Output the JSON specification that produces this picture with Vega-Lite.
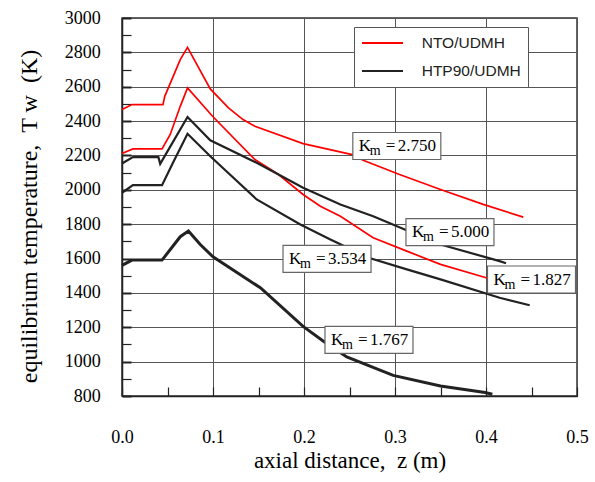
{
  "$schema": "https://vega.github.io/schema/vega-lite/v6.json",
  "width": 455,
  "height": 378,
  "autosize": {"type": "none"},
  "padding": {"left": 122, "top": 18, "right": 18, "bottom": 86},
  "background": "white",
  "view": {"fill": null, "stroke": "#333", "strokeWidth": 1.5},
  "config": {
    "view": {"fill": null},
    "axis": {
      "labelFont": "Liberation Serif",
      "labelFontSize": 18,
      "labelColor": "black",
      "labelOverlap": false,
      "titleFont": "Liberation Serif",
      "titleFontSize": 23,
      "titleFontWeight": "normal",
      "titleColor": "black",
      "domainColor": "#222",
      "domainWidth": 1.5,
      "tickColor": "#222",
      "gridColor": "#555",
      "gridWidth": 1
    }
  },
  "datasets": {
    "curves": [
      {"fuel": "NTO/UDMH", "Km": "2.750", "z": 0, "T": 2467},
      {"fuel": "NTO/UDMH", "Km": "2.750", "z": 0.011, "T": 2496},
      {"fuel": "NTO/UDMH", "Km": "2.750", "z": 0.045, "T": 2496},
      {"fuel": "NTO/UDMH", "Km": "2.750", "z": 0.047, "T": 2544},
      {"fuel": "NTO/UDMH", "Km": "2.750", "z": 0.064, "T": 2758},
      {"fuel": "NTO/UDMH", "Km": "2.750", "z": 0.072, "T": 2829},
      {"fuel": "NTO/UDMH", "Km": "2.750", "z": 0.097, "T": 2587},
      {"fuel": "NTO/UDMH", "Km": "2.750", "z": 0.117, "T": 2477},
      {"fuel": "NTO/UDMH", "Km": "2.750", "z": 0.133, "T": 2409},
      {"fuel": "NTO/UDMH", "Km": "2.750", "z": 0.146, "T": 2370},
      {"fuel": "NTO/UDMH", "Km": "2.750", "z": 0.199, "T": 2269},
      {"fuel": "NTO/UDMH", "Km": "2.750", "z": 0.253, "T": 2205},
      {"fuel": "NTO/UDMH", "Km": "2.750", "z": 0.265, "T": 2172},
      {"fuel": "NTO/UDMH", "Km": "2.750", "z": 0.305, "T": 2089},
      {"fuel": "NTO/UDMH", "Km": "2.750", "z": 0.35, "T": 2002},
      {"fuel": "NTO/UDMH", "Km": "2.750", "z": 0.397, "T": 1915},
      {"fuel": "NTO/UDMH", "Km": "2.750", "z": 0.441, "T": 1841},

      {"fuel": "NTO/UDMH", "Km": "1.827", "z": 0, "T": 2211},
      {"fuel": "NTO/UDMH", "Km": "1.827", "z": 0.012, "T": 2238},
      {"fuel": "NTO/UDMH", "Km": "1.827", "z": 0.044, "T": 2238},
      {"fuel": "NTO/UDMH", "Km": "1.827", "z": 0.053, "T": 2322},
      {"fuel": "NTO/UDMH", "Km": "1.827", "z": 0.064, "T": 2486},
      {"fuel": "NTO/UDMH", "Km": "1.827", "z": 0.072, "T": 2593},
      {"fuel": "NTO/UDMH", "Km": "1.827", "z": 0.1, "T": 2425},
      {"fuel": "NTO/UDMH", "Km": "1.827", "z": 0.146, "T": 2176},
      {"fuel": "NTO/UDMH", "Km": "1.827", "z": 0.172, "T": 2089},
      {"fuel": "NTO/UDMH", "Km": "1.827", "z": 0.199, "T": 1973},
      {"fuel": "NTO/UDMH", "Km": "1.827", "z": 0.218, "T": 1905},
      {"fuel": "NTO/UDMH", "Km": "1.827", "z": 0.24, "T": 1846},
      {"fuel": "NTO/UDMH", "Km": "1.827", "z": 0.276, "T": 1721},
      {"fuel": "NTO/UDMH", "Km": "1.827", "z": 0.313, "T": 1643},
      {"fuel": "NTO/UDMH", "Km": "1.827", "z": 0.35, "T": 1566},
      {"fuel": "NTO/UDMH", "Km": "1.827", "z": 0.403, "T": 1484},

      {"fuel": "HTP90/UDMH", "Km": "5.000", "z": 0, "T": 2153},
      {"fuel": "HTP90/UDMH", "Km": "5.000", "z": 0.012, "T": 2190},
      {"fuel": "HTP90/UDMH", "Km": "5.000", "z": 0.04, "T": 2190},
      {"fuel": "HTP90/UDMH", "Km": "5.000", "z": 0.042, "T": 2151},
      {"fuel": "HTP90/UDMH", "Km": "5.000", "z": 0.049, "T": 2215},
      {"fuel": "HTP90/UDMH", "Km": "5.000", "z": 0.072, "T": 2424},
      {"fuel": "HTP90/UDMH", "Km": "5.000", "z": 0.097, "T": 2288},
      {"fuel": "HTP90/UDMH", "Km": "5.000", "z": 0.148, "T": 2157},
      {"fuel": "HTP90/UDMH", "Km": "5.000", "z": 0.172, "T": 2089},
      {"fuel": "HTP90/UDMH", "Km": "5.000", "z": 0.199, "T": 2012},
      {"fuel": "HTP90/UDMH", "Km": "5.000", "z": 0.24, "T": 1914},
      {"fuel": "HTP90/UDMH", "Km": "5.000", "z": 0.276, "T": 1846},
      {"fuel": "HTP90/UDMH", "Km": "5.000", "z": 0.35, "T": 1682},
      {"fuel": "HTP90/UDMH", "Km": "5.000", "z": 0.415, "T": 1585},
      {"fuel": "HTP90/UDMH", "Km": "5.000", "z": 0.422, "T": 1573},

      {"fuel": "HTP90/UDMH", "Km": "3.534", "z": 0, "T": 1983},
      {"fuel": "HTP90/UDMH", "Km": "3.534", "z": 0.012, "T": 2027},
      {"fuel": "HTP90/UDMH", "Km": "3.534", "z": 0.044, "T": 2027},
      {"fuel": "HTP90/UDMH", "Km": "3.534", "z": 0.056, "T": 2157},
      {"fuel": "HTP90/UDMH", "Km": "3.534", "z": 0.072, "T": 2326},
      {"fuel": "HTP90/UDMH", "Km": "3.534", "z": 0.097, "T": 2195},
      {"fuel": "HTP90/UDMH", "Km": "3.534", "z": 0.148, "T": 1944},
      {"fuel": "HTP90/UDMH", "Km": "3.534", "z": 0.196, "T": 1798},
      {"fuel": "HTP90/UDMH", "Km": "3.534", "z": 0.229, "T": 1711},
      {"fuel": "HTP90/UDMH", "Km": "3.534", "z": 0.271, "T": 1605},
      {"fuel": "HTP90/UDMH", "Km": "3.534", "z": 0.313, "T": 1537},
      {"fuel": "HTP90/UDMH", "Km": "3.534", "z": 0.35, "T": 1479},
      {"fuel": "HTP90/UDMH", "Km": "3.534", "z": 0.415, "T": 1372},
      {"fuel": "HTP90/UDMH", "Km": "3.534", "z": 0.448, "T": 1328},

      {"fuel": "HTP90/UDMH", "Km": "1.767", "z": 0, "T": 1560},
      {"fuel": "HTP90/UDMH", "Km": "1.767", "z": 0.011, "T": 1591},
      {"fuel": "HTP90/UDMH", "Km": "1.767", "z": 0.044, "T": 1591},
      {"fuel": "HTP90/UDMH", "Km": "1.767", "z": 0.064, "T": 1727},
      {"fuel": "HTP90/UDMH", "Km": "1.767", "z": 0.073, "T": 1760},
      {"fuel": "HTP90/UDMH", "Km": "1.767", "z": 0.086, "T": 1682},
      {"fuel": "HTP90/UDMH", "Km": "1.767", "z": 0.1, "T": 1610},
      {"fuel": "HTP90/UDMH", "Km": "1.767", "z": 0.152, "T": 1430},
      {"fuel": "HTP90/UDMH", "Km": "1.767", "z": 0.199, "T": 1205},
      {"fuel": "HTP90/UDMH", "Km": "1.767", "z": 0.221, "T": 1120},
      {"fuel": "HTP90/UDMH", "Km": "1.767", "z": 0.247, "T": 1027},
      {"fuel": "HTP90/UDMH", "Km": "1.767", "z": 0.298, "T": 920},
      {"fuel": "HTP90/UDMH", "Km": "1.767", "z": 0.35, "T": 858},
      {"fuel": "HTP90/UDMH", "Km": "1.767", "z": 0.399, "T": 820},
      {"fuel": "HTP90/UDMH", "Km": "1.767", "z": 0.407, "T": 810}
    ],
    "labels": [
      {"Km": 2.75, "z": 0.302, "T": 2255},
      {"Km": 5.0, "z": 0.3604, "T": 1754},
      {"Km": 3.534, "z": 0.2253, "T": 1598},
      {"Km": 1.827, "z": 0.45, "T": 1478},
      {"Km": 1.767, "z": 0.2714, "T": 1127}
    ]
  },
  "encoding": {
    "x": {
      "field": "z", "type": "quantitative",
      "scale": {"domain": [0, 0.5], "nice": false, "zero": false},
      "axis": {
        "values": [0, 0.05, 0.1, 0.15, 0.2, 0.25, 0.3, 0.35, 0.4, 0.45, 0.5],
        "labelExpr": "round(datum.value*100)%10==0 ? format(datum.value,'.1f') : ''",
        "grid": true,
        "gridColor": "#555555",
        "gridWidth": 1,
        "gridDash": [],
        "gridOpacity": {"condition": {"test": "round(datum.value*100)%10!=0", "value": 0}, "value": 1},
        "ticks": true,
        "tickColor": "#222222",
        "tickOpacity": 1,
        "tickSize": -9,
        "tickWidth": 1.2,
        "domain": true,
        "domainColor": "#222222",
        "domainOpacity": 1,
        "domainWidth": 1.5,
        "labelPadding": 55.5,
        "labelBaseline": "alphabetic",
        "labelFlush": false,
        "labelOverlap": false,
        "title": "axial distance,\u00a0\u00a0z (m)",
        "titleBaseline": "alphabetic",
        "titleY": 71.5
      }
    },
    "y": {
      "field": "T", "type": "quantitative",
      "scale": {"domain": [800, 3000], "nice": false, "zero": false},
      "axis": {
        "values": [800, 900, 1000, 1100, 1200, 1300, 1400, 1500, 1600, 1700, 1800, 1900, 2000, 2100, 2200, 2300, 2400, 2500, 2600, 2700, 2800, 2900, 3000],
        "format": "d",
        "labelExpr": "datum.value%200==0 ? datum.label : ''",
        "grid": true,
        "gridColor": "#555555",
        "gridWidth": 1,
        "gridDash": [],
        "gridOpacity": {"condition": {"test": "datum.value%200!=0", "value": 0}, "value": 1},
        "ticks": true,
        "tickColor": "#222222",
        "tickOpacity": 1,
        "tickSize": -9,
        "tickWidth": {"condition": {"test": "datum.value%200==0", "value": 2}, "value": 1.2},
        "domain": true,
        "domainColor": "#222222",
        "domainOpacity": 1,
        "domainWidth": 1.5,
        "labelPadding": 30.7,
        "labelOverlap": false,
        "title": "equilibrium temperature,\u00a0\u00a0T w\u00a0\u00a0(K)",
        "titleFontSize": 24,
        "titleBaseline": "bottom",
        "titleX": -81,
        "titleY": 198
      }
    }
  },
  "layer": [
    {
      "data": {"name": "curves"},
      "transform": [{"filter": "datum.fuel == 'NTO/UDMH'"}],
      "mark": {"type": "line", "strokeWidth": 1.7},
      "encoding": {
        "color": {
          "field": "fuel", "type": "nominal",
          "scale": {"domain": ["NTO/UDMH", "HTP90/UDMH"], "range": ["#ff0000", "#222222"]},
          "legend": {
            "title": null,
            "orient": "none",
            "legendX": 232,
            "legendY": 9,
            "fillColor": "white",
            "strokeColor": "#555",
            "padding": 7,
            "symbolType": "M-1,0H4.125",
            "symbolSize": 256,
            "symbolStrokeWidth": 2,
            "labelFont": "Liberation Sans",
            "labelFontSize": 15.5,
            "labelColor": "#222",
            "labelOffset": 42.7,
            "rowPadding": 10
          }
        },
        "detail": {"field": "Km"}
      }
    },
    {
      "data": {"name": "curves"},
      "transform": [{"filter": "datum.fuel == 'HTP90/UDMH' && datum.Km != '1.767'"}],
      "mark": {"type": "line", "strokeWidth": 2.2},
      "encoding": {
        "color": {"field": "fuel", "type": "nominal"},
        "detail": {"field": "Km"}
      }
    },
    {
      "data": {"name": "curves"},
      "transform": [{"filter": "datum.Km == '1.767'"}],
      "mark": {"type": "line", "strokeWidth": 3},
      "encoding": {
        "color": {"field": "fuel", "type": "nominal"},
        "detail": {"field": "Km"}
      }
    },
    {
      "data": {"name": "labels"},
      "mark": {"type": "point", "shape": "M-1,-0.307H1V0.307H-1Z", "size": 7744, "filled": true, "fill": "white", "stroke": "#666", "strokeWidth": 1.2, "opacity": 1},
      "encoding": {}
    },
    {
      "data": {"name": "labels"},
      "mark": {"type": "text", "text": "K", "font": "Liberation Serif", "fontSize": 17, "align": "left", "baseline": "middle", "dx": -38, "dy": 0, "color": "black"},
      "encoding": {}
    },
    {
      "data": {"name": "labels"},
      "mark": {"type": "text", "text": "m", "font": "Liberation Serif", "fontSize": 14, "align": "left", "baseline": "middle", "dx": -27, "dy": 5, "color": "black"},
      "encoding": {}
    },
    {
      "data": {"name": "labels"},
      "mark": {"type": "text", "text": "=", "font": "Liberation Serif", "fontSize": 17, "align": "left", "baseline": "middle", "dx": -11, "dy": 0, "color": "black"},
      "encoding": {}
    },
    {
      "data": {"name": "labels"},
      "mark": {"type": "text", "font": "Liberation Serif", "fontSize": 17, "align": "left", "baseline": "middle", "dx": 1, "dy": 0, "color": "black"},
      "encoding": {
        "text": {"field": "Km", "type": "quantitative", "format": ".3f"}
      }
    }
  ]
}
